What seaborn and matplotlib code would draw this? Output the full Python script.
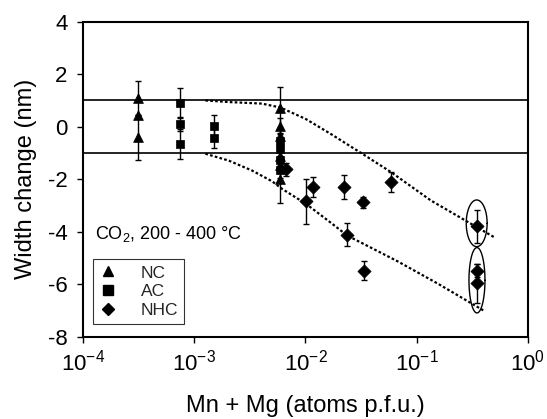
import numpy as np
import pandas as pd
import matplotlib
matplotlib.use("Agg")
import matplotlib.pyplot as plt
from matplotlib.lines import Line2D
import seaborn as sns

# ---------------- data ----------------
nc_x = [3.14e-4, 3.14e-4, 3.14e-4, 5.9e-3, 5.9e-3, 5.9e-3, 5.9e-3, 5.9e-3, 5.9e-3]
nc_y = [1.1, 0.43, -0.4, 0.73, 0.02, -0.35, -1.1, -1.45, -2.0]
nc_err = [0.65, 0.0, 0.86, 0.8, 0.3, 0.3, 0.3, 0.3, 0.9]

ac_x = [7.45e-4, 7.45e-4, 7.45e-4, 1.505e-3, 1.505e-3, 5.9e-3, 5.9e-3, 5.9e-3, 5.9e-3]
ac_y = [0.92, 0.09, -0.65, 0.03, -0.42, -0.55, -0.85, -1.25, -1.65]
ac_err = [0.55, 0.25, 0.57, 0.4, 0.38, 0.3, 0.3, 0.3, 0.3]

nhc_x = [6.64e-3, 0.0101, 0.01175, 0.0222, 0.0234, 0.0331, 0.0338, 0.0588, 0.346, 0.346, 0.346]
nhc_y = [-1.63, -2.84, -2.28, -2.30, -4.11, -2.88, -5.48, -2.11, -3.80, -5.48, -5.97]
nhc_err = [0.25, 0.85, 0.38, 0.45, 0.43, 0.22, 0.35, 0.38, 0.62, 0.25, 0.75]

upper_x = [1.26e-3, 2.04e-3, 4.07e-3, 5.96e-3, 1.0e-2, 1.68e-2, 3.24e-2, 5.83e-2, 0.134, 0.497]
upper_y = [1.0, 0.94, 0.88, 0.73, 0.3, -0.27, -1.03, -1.72, -2.81, -4.21]

lower_x = [1.26e-3, 2.04e-3, 3.31e-3, 5.01e-3, 6.17e-3, 1.02e-2, 1.68e-2, 2.38e-2, 6.68e-2, 0.158, 0.398]
lower_y = [-1.03, -1.29, -1.67, -2.08, -2.37, -2.95, -3.65, -4.15, -5.12, -6.0, -7.0]

limit_lines = [1.0, -1.0]

ell_cx = [0.346, 0.348]
ell_cy = [-3.68, -5.85]
ell_half_w_dec = [0.094, 0.072]
ell_half_h = [0.89, 1.245]

groups = ["NC", "AC", "NHC"]
x_ticks = [1e-4, 1e-3, 1e-2, 1e-1, 1e0]
x_tick_labels = ["10$^{-4}$", "10$^{-3}$", "10$^{-2}$", "10$^{-1}$", "10$^{0}$"]
y_ticks = [-8, -6, -4, -2, 0, 2, 4]
y_tick_labels = ["-8", "-6", "-4", "-2", "0", "2", "4"]

# ---------------- build table ----------------
df = pd.concat([
    pd.DataFrame({"x": nc_x, "y": nc_y, "err": nc_err, "type": "NC"}),
    pd.DataFrame({"x": ac_x, "y": ac_y, "err": ac_err, "type": "AC"}),
    pd.DataFrame({"x": nhc_x, "y": nhc_y, "err": nhc_err, "type": "NHC"}),
], ignore_index=True)

sns.set_theme(style="ticks")
plt.rcParams["font.family"] = ["Liberation Sans", "DejaVu Sans"]
plt.rcParams["mathtext.fontset"] = "custom"
plt.rcParams["mathtext.rm"] = "Liberation Sans"
plt.rcParams["mathtext.it"] = "Liberation Sans"
plt.rcParams["mathtext.bf"] = "Liberation Sans"

fig = plt.figure(figsize=(5.47, 4.19), dpi=100)
ax = fig.add_axes([0.1517, 0.1964, 0.8135, 0.7518])

for yv in limit_lines:
    ax.axhline(yv, color="black", lw=1.2, zorder=1)

ax.plot(upper_x, upper_y, color="black", lw=1.6, dashes=(1.2, 1.0), zorder=2)
ax.plot(lower_x, lower_y, color="black", lw=1.6, dashes=(1.2, 1.0), zorder=2)

e = df[df["err"] > 0]
ax.errorbar(e["x"], e["y"], yerr=e["err"], fmt="none", ecolor="black",
            elinewidth=1.0, capsize=2.5, capthick=1.0, zorder=3)

markers = {"NC": "^", "AC": "s", "NHC": "D"}
sizes = {"NC": 50, "AC": 38, "NHC": 45}
for g in groups:
    sub = df[df["type"] == g]
    sns.scatterplot(data=sub, x="x", y="y", marker=markers[g], color="black",
                    s=sizes[g], edgecolor="black", linewidth=0.5, ax=ax,
                    legend=False, zorder=4)

t = np.linspace(0, 2 * np.pi, 200)
for cx, cy, hw, hh in zip(ell_cx, ell_cy, ell_half_w_dec, ell_half_h):
    ax.plot(10 ** (np.log10(cx) + hw * np.cos(t)), cy + hh * np.sin(t),
            color="black", lw=1.0, zorder=3)

ax.set_xscale("log")
ax.set_xlim(1e-4, 1)
ax.set_ylim(-8, 4)
ax.set_xticks(x_ticks)
ax.set_xticklabels(x_tick_labels)
ax.xaxis.set_minor_locator(matplotlib.ticker.NullLocator())
ax.set_yticks(y_ticks)
ax.set_yticklabels(y_tick_labels)
ax.tick_params(axis="both", direction="out", length=4, width=1.0,
               labelsize=16, colors="black")
ax.tick_params(axis="x", pad=5)
ax.tick_params(axis="y", pad=7)

for sp in ax.spines.values():
    sp.set_visible(True)
    sp.set_color("black")
    sp.set_linewidth(1.5)

ax.set_xlabel("Mn + Mg (atoms p.f.u.)", fontsize=17, color="black", labelpad=14)
ax.set_ylabel("Width change (nm)", fontsize=17, color="black", labelpad=8)

ax.text(0.027, 0.326, "CO$_2$, 200 - 400 °C", transform=ax.transAxes,
        fontsize=13, va="center", ha="left", color="black")

handles = [Line2D([], [], marker=markers[g], color="black", linestyle="none",
                  markersize=6.5 if g != "NHC" else 6) for g in groups]
leg = ax.legend(handles, groups, loc="upper left", bbox_to_anchor=(0.0225, 0.2457),
                borderaxespad=0, fontsize=12.5, frameon=True, fancybox=False,
                handlelength=1.0, handletextpad=1.4, labelspacing=0.2,
                borderpad=0.35)
leg.get_frame().set_edgecolor("black")
leg.get_frame().set_linewidth(0.8)

fig.savefig("out.png", dpi=100)
